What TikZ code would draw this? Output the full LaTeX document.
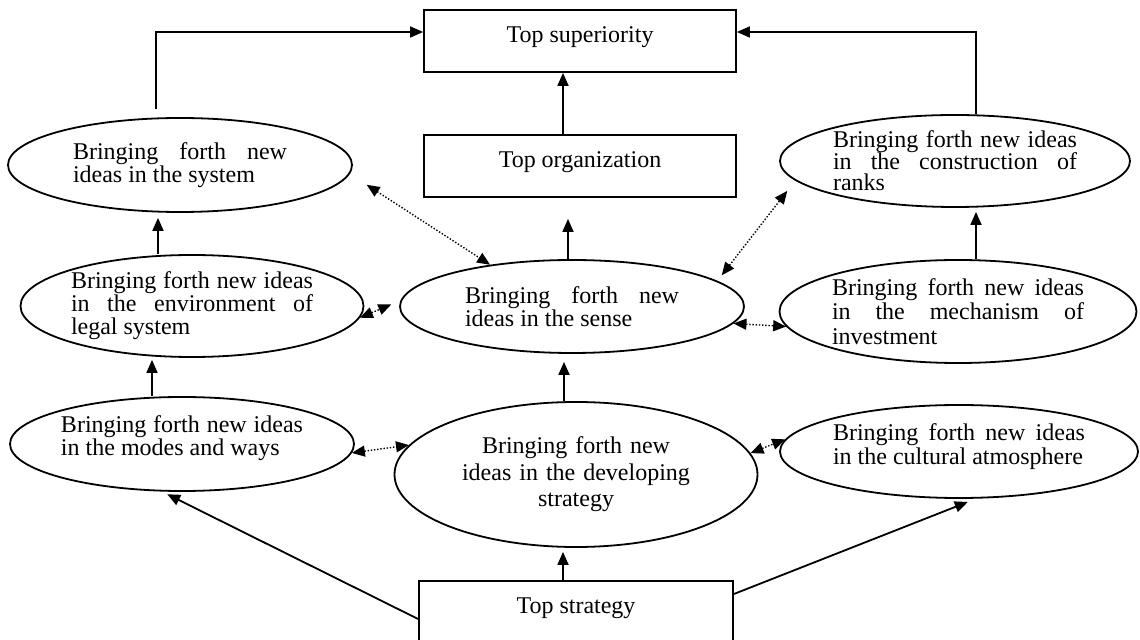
\documentclass[tikz,border=0pt]{standalone}
\usepackage{fontspec}
\setmainfont{Liberation Serif}
\usetikzlibrary{shapes.geometric}
\usetikzlibrary{positioning}
\usetikzlibrary{arrows.meta}
\hyphenpenalty=10000
\tolerance=9999
\hbadness=10000
\lineskiplimit=-20pt

\begin{document}
\begin{tikzpicture} [
       x=0.5pt, y=-0.5pt,
       font=\fontsize{12pt}{11.5pt}\selectfont,
       >={Triangle[length=6.5pt,width=5.5pt]},
       idea/.style={ellipse, draw, line width=0.9pt, inner sep=0pt,
               align=justify},
       topbox/.style={rectangle, draw, line width=0.9pt,
               minimum width=156pt, minimum height=31pt, text depth=6pt},
       line/.style     = {draw, line width=0.9pt, ->},
       dotline/.style  = {draw, line width=0.7pt, <->, dash pattern=on 0.7pt off 0.9pt},
       node distance=62.5pt,
       ]
       \useasboundingbox (0,0) rectangle (1140,640);
       \node (topsup) [topbox] at (580,41) {Top superiority};
       \node (toporg) [topbox, below of = topsup] {Top organization};
       \node (topstrat) [topbox, minimum width=157pt] at (576,612) {Top strategy};
       \node (system) [idea, minimum width=172pt, minimum height=47pt, text width=107pt] at (180,165)
            {Bringing forth new\linebreak ideas in the system};
       \node (ranks) [idea, minimum width=175pt, minimum height=46pt, text width=122pt,
            font={\fontsize{12pt}{10.75pt}\selectfont\lineskiplimit=-20pt\lineskip=0pt\relax}] at (955,161)
            {Bringing forth new ideas\linebreak in the construction of\linebreak ranks};
       \node (legal) [idea, minimum width=171.5pt, minimum height=51pt, text width=121pt] at (192,306)
            {Bringing forth new ideas\linebreak in the environment of\linebreak legal system};
       \node (sense) [idea, minimum width=172pt, minimum height=46.5pt, text width=107pt] at (572,306.5)
            {Bringing forth new\linebreak ideas in the sense};
       \node (invest) [idea, minimum width=178.5pt, minimum height=51.5pt, text width=126pt,
            font=\fontsize{12pt}{12.25pt}\selectfont] at (958,311.5)
            {Bringing forth new ideas\linebreak in the mechanism of\linebreak investment};
       \node (modes) [idea, minimum width=172pt, minimum height=47pt, text width=121pt,
            text depth=20pt] at (182,444)
            {Bringing forth new ideas\linebreak in the modes and ways};
       \node (develop) [idea, minimum width=181.5pt, minimum height=72.5pt, text width=120pt,
            align=center, font=\fontsize{12pt}{13.25pt}\selectfont] at (576,474.5)
            {Bringing forth new\\ ideas in the developing\\ strategy};
       \node (cultural) [idea, minimum width=179pt, minimum height=46.5pt, text width=126pt,
            text depth=19.5pt, font=\fontsize{12pt}{12pt}\selectfont] at (959,451.5)
            {Bringing forth new ideas\linebreak in the cultural atmosphere};
        \begin{scope}[every path/.style=line]
        \path [shorten <=4pt] ([xshift=-12pt]system.north) |- ([yshift=4.5pt]topsup.west);
        \path ([xshift=10.5pt]ranks.north) |- ([yshift=4.5pt]topsup.east);
        \path ([xshift=-8.5pt]toporg.north) -- ([xshift=-8.5pt]topsup.south);
        \path [shorten >=10.5pt] ([xshift=-2pt]sense.north) -- ([xshift=-2pt]sense.north |- toporg.south);
        \path [shorten >=4pt] ([xshift=-6pt]develop.north) -- ([xshift=-6pt]develop.north |- sense.south);
        \path [shorten >=2pt] ([xshift=-6.5pt]topstrat.north) -- ([xshift=-6.5pt]topstrat.north |- develop.south);
        \path [shorten >=3pt] ([yshift=-3.5pt]topstrat.west) -- (modes.-113);
        \path [shorten >=4.5pt] ([yshift=9pt]topstrat.east) -- (cultural.-70);
        \path [shorten >=2.5pt] ([xshift=-17pt]legal.north) -- ([xshift=-17pt]legal.north |- system.south);
        \path [shorten >=1pt] ([xshift=-15pt]modes.north) -- ([xshift=-15pt]modes.north |- legal.south);
        \path [shorten >=2pt] ([xshift=9pt]invest.north) -- ([xshift=9pt]invest.north |- ranks.south);
        \end{scope}
        \begin{scope}[every path/.style=dotline]
        \path [shorten <=10pt] (system.-3.5) -- (sense.153);
        \path [shorten <=3.5pt, shorten >=6.5pt] (sense.10) -- (ranks.187);
        \path [shorten >=5pt] (legal.-4) -- (sense.178);
        \path (sense.-6) -- (invest.185);
        \path (modes.-3) -- (develop.170);
        \path (develop.7) -- (cultural.176);
        \end{scope}
\end{tikzpicture}
\end{document}
